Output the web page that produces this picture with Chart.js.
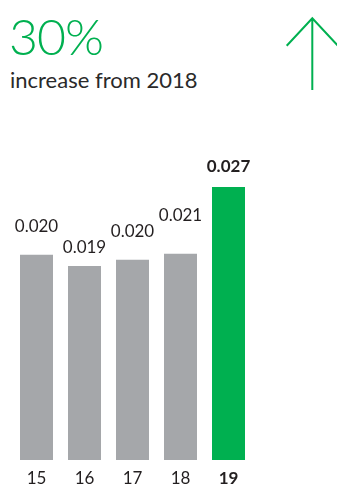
<!DOCTYPE html>
<html>
<head>
<meta charset="utf-8">
<script src="https://cdn.jsdelivr.net/npm/chart.js@4"></script>
<style>
    html, body { margin: 0; padding: 0; background: #fff; }
    body { width: 337px; height: 484px; position: relative; overflow: hidden; font-family: Lato, "Open Sans", sans-serif; }
    .big { position: absolute; left: 9px; top: 6px; font-size: 50px; font-weight: 300; color: #00b050; line-height: 60px; letter-spacing: -1px; }
    .sub { position: absolute; left: 10px; top: 66px; font-size: 22px; font-weight: 400; color: #2a2a2a; line-height: 28px; }
    .arrow { position: absolute; left: 280px; top: 14px; }
    #chart { position: absolute; left: 0; top: 0; }
</style>
</head>
<body>
<div class="big">30%</div>
<div class="sub">increase from 2018</div>
<svg class="arrow" width="57" height="80">
    <path d="M32.3 4.3 L32.3 76 M6.7 31.7 L32.3 4.3 L57.9 31.7" fill="none" stroke="#00b050" stroke-width="2"/>
</svg>
<canvas id="chart" width="337" height="484"></canvas>
<script>
// 年份和数值
const years = ['15', '16', '17', '18', '19'];
const values = [0.0203, 0.0192, 0.0198, 0.0204, 0.027];
const valueLabels = ['0.020', '0.019', '0.020', '0.021', '0.027'];

const gray = '#a5a7aa';
const green = '#00b050';

// 数值标签离柱顶的距离（原图并不统一）
const labelGap = [22.7, 12.7, 23.3, 32.3, 15];

const labelPlugin = {
    id: 'labels',
    afterDatasetsDraw(chart) {
        const ctx = chart.ctx;
        const meta = chart.getDatasetMeta(0);
        const xScale = chart.scales.x;
        ctx.save();
        ctx.textAlign = 'center';
        ctx.textBaseline = 'alphabetic';
        ctx.fillStyle = '#231f20';
        meta.data.forEach((bar, i) => {
            const last = i === values.length - 1;
            ctx.font = (last ? 'bold ' : '') + '17px Lato, "Open Sans", sans-serif';
            ctx.fillText(valueLabels[i], bar.x, bar.y - labelGap[i]);
        });
        // x 轴标签
        years.forEach((y, i) => {
            const last = i === years.length - 1;
            ctx.font = (last ? 'bold ' : '') + '17px Lato, "Open Sans", sans-serif';
            ctx.fillText(y, xScale.getPixelForValue(i), chart.chartArea.bottom + 24);
        });
        ctx.restore();
    }
};

new Chart(document.getElementById('chart'), {
    type: 'bar',
    data: {
        labels: years,
        datasets: [{
            data: values,
            backgroundColor: years.map((y, i) => i === years.length - 1 ? green : gray),
            borderWidth: 0,
            barPercentage: 0.6875,
            categoryPercentage: 1
        }]
    },
    options: {
        responsive: false,
        animation: false,
        layout: {
            padding: { top: 156.7, left: 12.5, right: 84.5, bottom: 24 }
        },
        plugins: {
            legend: { display: false },
            tooltip: { enabled: false }
        },
        scales: {
            x: { display: false },
            y: { display: false, min: 0, max: 0.03 }
        }
    },
    plugins: [labelPlugin]
});
</script>
</body>
</html>
